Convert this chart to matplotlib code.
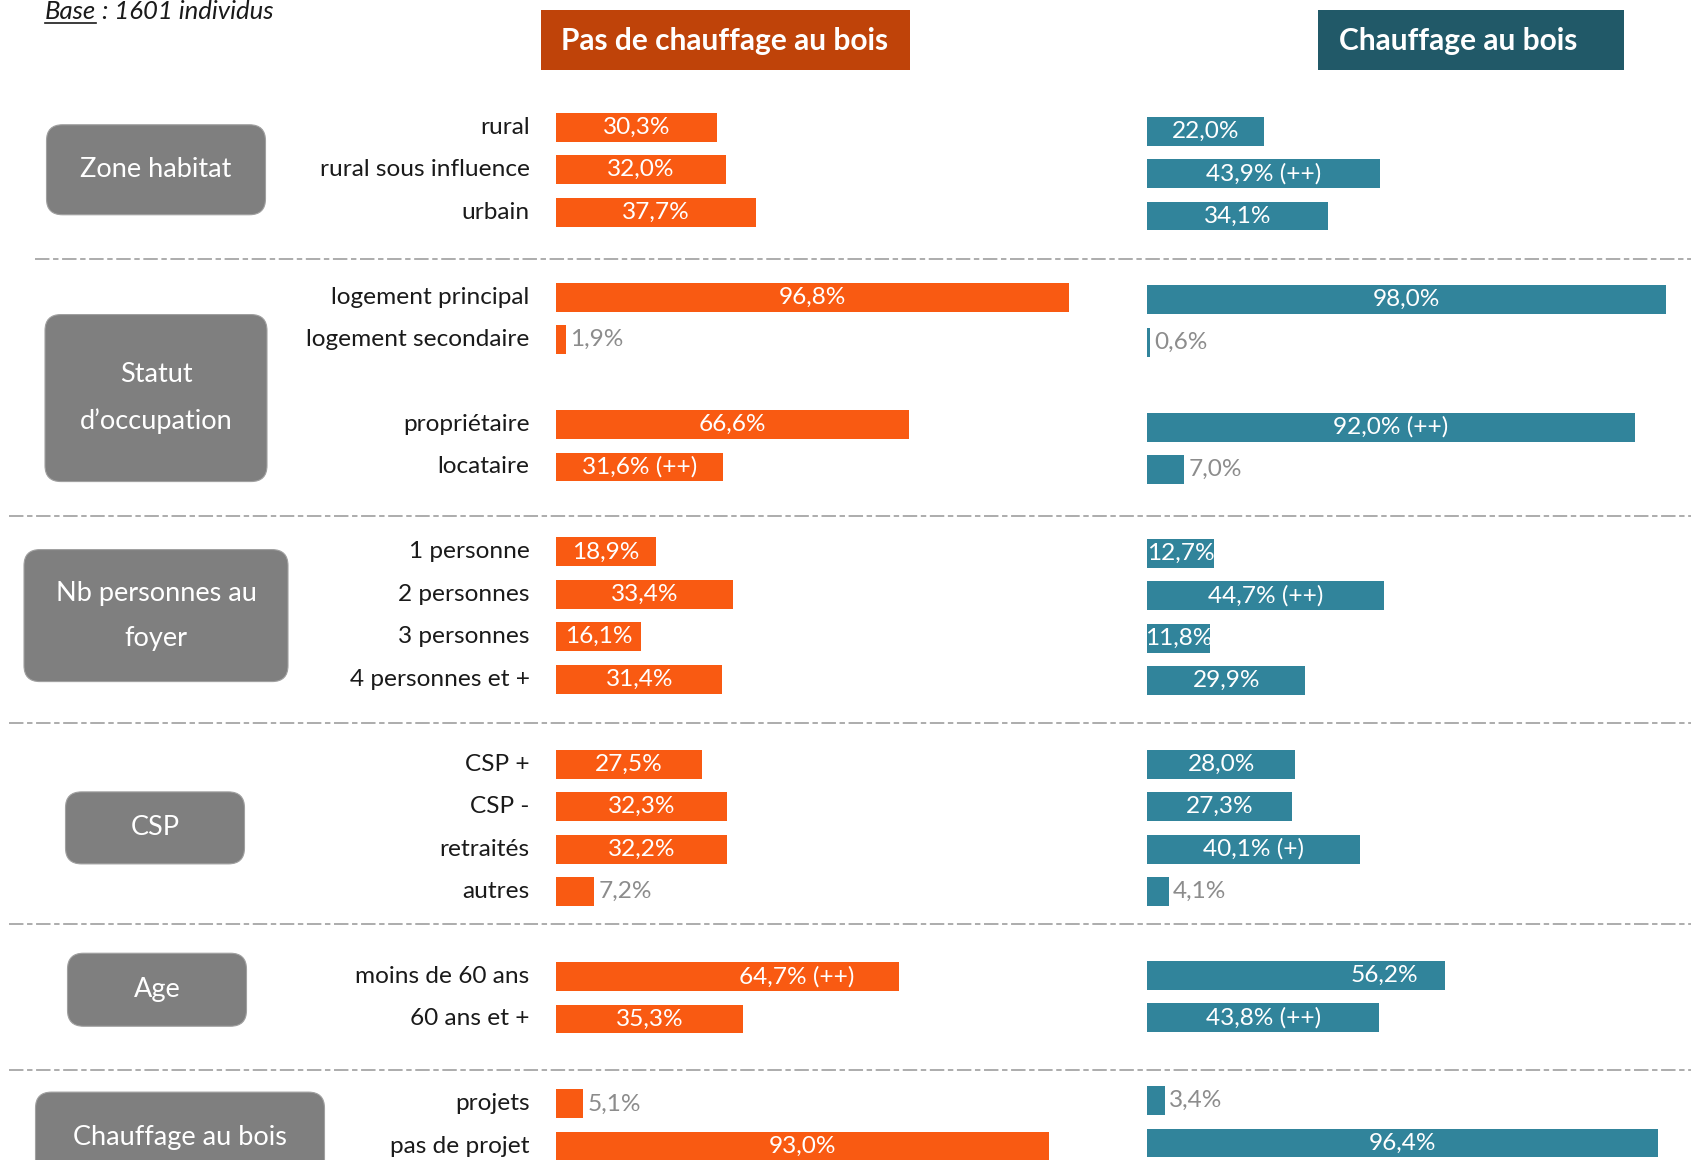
import matplotlib.pyplot as plt
from matplotlib.patches import FancyBboxPatch, Rectangle

plt.rcParams['font.family'] = ['Lato', 'DejaVu Sans']

# données
categories = ['rural', 'rural sous influence', 'urbain',
              'logement principal', 'logement secondaire', 'propriétaire', 'locataire',
              '1 personne', '2 personnes', '3 personnes', '4 personnes et +',
              'CSP +', 'CSP -', 'retraités', 'autres',
              'moins de 60 ans', '60 ans et +',
              'projets', 'pas de projet']
pas_bois = [30.3, 32.0, 37.7, 96.8, 1.9, 66.6, 31.6, 18.9, 33.4, 16.1, 31.4,
            27.5, 32.3, 32.2, 7.2, 64.7, 35.3, 5.1, 93.0]
bois = [22.0, 43.9, 34.1, 98.0, 0.6, 92.0, 7.0, 12.7, 44.7, 11.8, 29.9,
        28.0, 27.3, 40.1, 4.1, 56.2, 43.8, 3.4, 96.4]
pas_bois_sig = ['', '', '', '', '', '', '(++)', '', '', '', '',
                '', '', '', '', '(++)', '', '', '']
bois_sig = ['', '(++)', '', '', '', '(++)', '', '', '(++)', '', '',
            '', '', '(+)', '', '', '(++)', '', '']
blocks = [0, 0, 0, 1, 1, 2, 2, 3, 3, 3, 3, 4, 4, 4, 4, 5, 5, 6, 6]
block_group = [0, 1, 1, 2, 3, 4, 5]
group_names = ['Zone habitat', 'Statut\nd’occupation', 'Nb personnes au\nfoyer',
               'CSP', 'Age', 'Chauffage au bois']

# mise en page (pixels)
W, H = 1691, 1160
Y0, STEP = 127.3, 42.46
PX = 5.30
ORANGE = '#F95A12'
TEAL = '#31849B'
GREY_BOX = '#7F7F7F'
FS = 17.6
box_w = [219, 222, 264, 179, 179, 289]
box_h = [90, 167, 132, 72, 73, 90]
box_cx = [156, 156, 156, 155, 157, 180]
box_dy = [0, 16, 0, 0, -8, 12]
teal_dy = [0.09, 0.06, 0.03, 0.0, -0.03, -0.08]
sep_x0 = [35, 9, 9, 9, 9]
sep_dy = [4, 7, 1, -10, 9]

# position des lignes (une ligne vide entre blocs)
rows = []
pos, prev = 0, None
for b in blocks:
    if prev is not None and b != prev:
        pos += 1
    rows.append(pos)
    pos += 1
    prev = b

fig = plt.figure(figsize=(W / 100, H / 100), dpi=100)
bg = fig.add_axes([0, 0, 1, 1])
bg.set_xlim(0, W)
bg.set_ylim(H, 0)
bg.axis('off')

ylim = ((H - Y0) / STEP, -Y0 / STEP)


def bar_axes(x0):
    ax = fig.add_axes([x0 / W, 0, 100 * PX / W, 1])
    ax.set_xlim(0, 100)
    ax.set_ylim(*ylim)
    ax.axis('off')
    return ax


ax_l = bar_axes(556)
ax_r = bar_axes(1147)


def fmt(v, sig):
    s = f'{v:.1f}'.replace('.', ',') + '%'
    return s + ' ' + sig if sig else s


def draw_bars(ax, vals, sigs, color, end_labels, dys):
    ys = [r + dys[block_group[b]] for r, b in zip(rows, blocks)]
    bars = ax.barh(ys, vals, height=0.68, color=color)
    for bar, v, sig, y, cat in zip(bars, vals, sigs, ys, categories):
        s = fmt(v, sig)
        if v < 10:
            ax.annotate(s, xy=(v, y), xytext=(3, 0), textcoords='offset points',
                        ha='left', va='center', fontsize=FS, color='#8C8C8C')
        elif cat in end_labels:
            ax.annotate(s, xy=(v, y), xytext=(-end_labels[cat], 0),
                        textcoords='offset points', ha='right', va='center',
                        fontsize=FS, color='white')
        else:
            t = ax.text(v / 2, y, s, ha='center', va='center', fontsize=FS, color='white')
            t.set_clip_path(bar)


draw_bars(ax_l, pas_bois, pas_bois_sig, ORANGE, {'moins de 60 ans': 32}, [0] * 6)
draw_bars(ax_r, bois, bois_sig, TEAL, {'moins de 60 ans': 19}, teal_dy)

for cat, y in zip(categories, rows):
    ax_l.annotate(cat, xy=(0, y), xytext=(-19, 0), textcoords='offset points',
                  ha='right', va='center', fontsize=FS, color='#1A1A1A')

# cadres des groupes
for g, name in enumerate(group_names):
    grows = [r for r, b in zip(rows, blocks) if block_group[b] == g]
    cy = Y0 + STEP * (grows[0] + grows[-1]) / 2 + box_dy[g]
    bx = FancyBboxPatch((box_cx[g] - box_w[g] / 2, cy - box_h[g] / 2), box_w[g], box_h[g],
                        boxstyle='round,pad=0,rounding_size=16', fc=GREY_BOX, ec='#A0A0A0', lw=0.8)
    bg.add_patch(bx)
    bg.text(box_cx[g], cy, name, ha='center', va='center', fontsize=19.5,
            color='white', linespacing=2.0)

# séparateurs
seps = [r + 1 for r, b, nb in zip(rows, blocks, blocks[1:])
        if block_group[b] != block_group[nb]]
for y, x0, dy in zip(seps, sep_x0, sep_dy):
    bg.plot([x0, W], [Y0 + STEP * y + dy] * 2, color='#A6A6A6', lw=1.3,
            ls=(0, (8, 2, 3, 2)))

# titres
bg.add_patch(Rectangle((541, 10), 369, 60, fc='#BF4309', ec='none'))
bg.text(725, 41, 'Pas de chauffage au bois', ha='center', va='center',
        fontsize=21.5, fontweight='bold', color='white')
bg.add_patch(Rectangle((1318, 10), 306, 60, fc='#215968', ec='none'))
bg.text(1458, 41, 'Chauffage au bois', ha='center', va='center',
        fontsize=21.5, fontweight='bold', color='white')

t1 = bg.text(45, 19, 'Base', ha='left', va='baseline', fontsize=18.5,
             style='italic', color='#1A1A1A')
bg.annotate(' : 1601 individus', xy=(1, 0), xycoords=t1, ha='left', va='bottom',
            fontsize=18.5, style='italic', color='#1A1A1A')
fig.canvas.draw()
bb = t1.get_window_extent()
inv = bg.transData.inverted()
(x1, _), (x2, _) = inv.transform([(bb.x0, 0), (bb.x1, 0)])
bg.plot([x1, x2], [23, 23], color='#1A1A1A', lw=1.2)

fig.savefig('out.png', dpi=100, facecolor='white')
